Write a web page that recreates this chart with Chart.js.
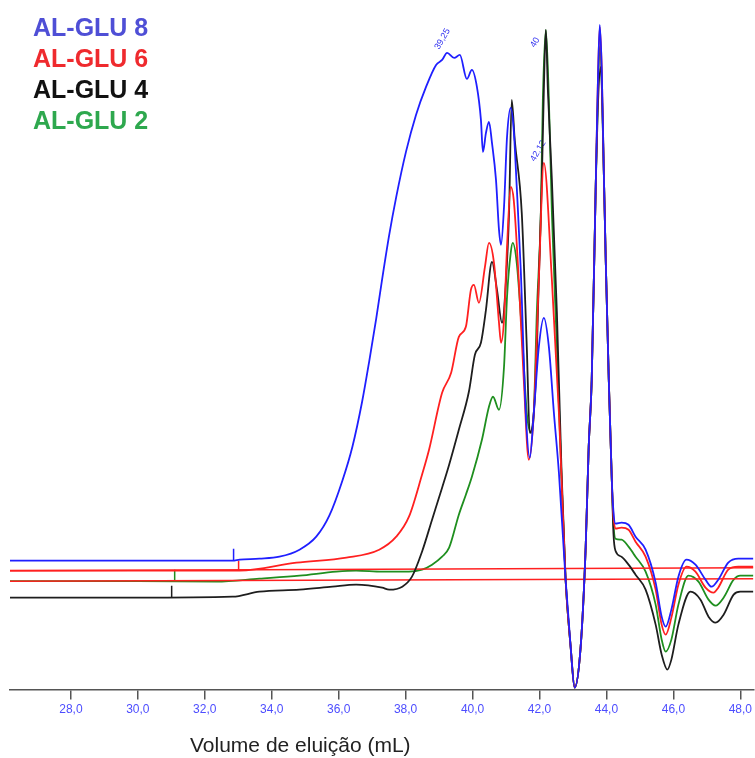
<!DOCTYPE html>
<html>
<head>
<meta charset="utf-8">
<script src="https://cdn.jsdelivr.net/npm/chart.js@4.4.0/dist/chart.umd.min.js"></script>
<style>
  html, body { margin: 0; padding: 0; background: #fff; }
  #wrap { position: relative; width: 755px; height: 758px; overflow: hidden; }
  #legend { position: absolute; left: 33px; top: 12px; font: bold 25px "Liberation Sans", Arial, sans-serif; line-height: 31px; }
  #xtitle { position: absolute; left: 190px; top: 733px; font: 21px "Liberation Sans", Arial, sans-serif; color: #222; white-space: nowrap; }
</style>
</head>
<body>
<div id="wrap">
  <canvas id="chrom"></canvas>
  <div id="legend"></div>
  <div id="xtitle">Volume de eluição (mL)</div>
</div>
<script>
// Series names and colours
const seriesNames = ['AL-GLU 8', 'AL-GLU 6', 'AL-GLU 4', 'AL-GLU 2'];
const seriesColors = ['#1f1fff', '#ff2020', '#1e1e1e', '#1f8f1f'];
const legendColors = ['#4f4fd6', '#ef2a2e', '#111111', '#2ea84e'];

// Elution volume (mL), detector signal (arbitrary units)
const glu8 = [
  [26.18, 12.9], [30.0, 12.9], [32.83, 12.9], [33.04, 13.0], [33.63, 13.1], [34.23, 13.3],
  [34.83, 14.0], [35.33, 15.3], [35.72, 17.4], [36.11, 20.9], [36.41, 24.3], [36.70, 28.8],
  [36.91, 32.8], [37.12, 37.1], [37.30, 41.1], [37.51, 45.5], [37.72, 49.3], [38.01, 53.8],
  [38.31, 57.5], [38.61, 60.3], [38.91, 62.5], [39.09, 63.0], [39.24, 63.7], [39.45, 63.2],
  [39.62, 63.5], [39.83, 61.1], [39.98, 62.0], [40.13, 60.3], [40.25, 57.0], [40.31, 53.8],
  [40.40, 55.7], [40.49, 56.8], [40.58, 54.7], [40.70, 51.0], [40.79, 46.0], [40.85, 44.5],
  [40.94, 48.3], [41.03, 55.3], [41.14, 58.2], [41.23, 56.0], [41.32, 50.3], [41.44, 42.0],
  [41.59, 27.7], [41.71, 23.2], [41.83, 27.7], [41.98, 34.3], [42.13, 37.2], [42.28, 34.3],
  [42.43, 27.7], [42.58, 21.7], [42.78, 11.0], [42.93, 4.3], [43.05, 0.2], [43.23, 4.3],
  [43.38, 14.3], [43.47, 24.3], [43.56, 31.0], [43.68, 50.4], [43.74, 60.1], [43.80, 66.5],
  [43.86, 62.0], [43.92, 52.0], [43.98, 42.8], [44.07, 31.0], [44.16, 21.0], [44.21, 17.8],
  [44.27, 16.6], [44.45, 16.7], [44.66, 16.5], [44.87, 15.3], [45.17, 14.0], [45.47, 10.7],
  [45.65, 7.3], [45.77, 6.3], [45.94, 8.0], [46.15, 11.3], [46.39, 13.0], [46.66, 12.5],
  [46.96, 11.0], [47.14, 10.3], [47.34, 11.0], [47.64, 12.7], [47.94, 13.1], [48.39, 13.1],
];
const glu6 = [
  [26.18, 11.9], [30.0, 11.9], [33.04, 11.9], [34.74, 12.7], [36.23, 13.2], [37.21, 14.0],
  [37.72, 15.3], [38.10, 17.3], [38.49, 21.5], [38.70, 24.0], [39.09, 29.7], [39.36, 31.7],
  [39.59, 35.3], [39.80, 36.3], [39.95, 40.0], [40.04, 40.5], [40.19, 38.7], [40.37, 42.3],
  [40.49, 44.7], [40.64, 42.7], [40.79, 36.7], [40.85, 34.7], [40.94, 37.0], [41.03, 44.3],
  [41.14, 50.3], [41.23, 49.0], [41.38, 41.0], [41.53, 31.0], [41.68, 23.0], [41.83, 27.7],
  [41.98, 41.0], [42.13, 52.7], [42.37, 41.0], [42.58, 27.7], [42.66, 21.0], [42.78, 11.0],
  [42.93, 4.3], [43.05, 0.2], [43.23, 4.3], [43.38, 14.3], [43.47, 24.3], [43.56, 31.0],
  [43.68, 50.4], [43.74, 60.1], [43.80, 66.3], [43.86, 62.0], [43.92, 52.0], [43.98, 42.8],
  [44.07, 31.0], [44.16, 21.0], [44.21, 17.3], [44.27, 16.1], [44.45, 16.2], [44.66, 16.0],
  [44.87, 14.8], [45.17, 13.3], [45.47, 10.0], [45.65, 6.5], [45.77, 5.5], [45.94, 7.2],
  [46.15, 10.5], [46.39, 12.3], [46.66, 11.8], [46.96, 10.2], [47.20, 9.7], [47.34, 10.2],
  [47.64, 12.0], [47.94, 12.3], [48.39, 12.3],
];
const glu4 = [
  [26.18, 9.2], [30.0, 9.2], [32.83, 9.3], [33.63, 9.8], [34.83, 10.0], [35.81, 10.3],
  [36.52, 10.5], [37.30, 10.2], [37.51, 10.0], [37.90, 10.3], [38.19, 11.3], [38.49, 13.8],
  [38.79, 17.0], [39.09, 20.2], [39.30, 22.5], [39.59, 26.0], [39.89, 29.8], [40.07, 33.5],
  [40.25, 34.7], [40.40, 38.0], [40.58, 42.8], [40.73, 40.0], [40.88, 36.7], [41.00, 41.0],
  [41.09, 47.7], [41.17, 59.0], [41.26, 55.0], [41.47, 47.7], [41.62, 34.3], [41.71, 25.7],
  [41.89, 31.0], [41.98, 41.0], [42.07, 51.0], [42.13, 60.0], [42.19, 66.0], [42.25, 60.0],
  [42.37, 51.0], [42.52, 37.7], [42.66, 21.7], [42.78, 11.0], [42.93, 4.3], [43.05, 0.2],
  [43.23, 4.3], [43.38, 14.3], [43.47, 24.3], [43.56, 31.0], [43.68, 50.4], [43.74, 58.0],
  [43.83, 62.3], [43.92, 52.0], [43.98, 42.8], [44.07, 31.0], [44.16, 21.0], [44.21, 15.6],
  [44.27, 13.9], [44.45, 13.3], [44.66, 12.5], [44.87, 11.5], [45.17, 10.0], [45.47, 6.5],
  [45.65, 3.5], [45.82, 2.0], [45.94, 3.0], [46.15, 6.5], [46.51, 9.8], [46.81, 9.0],
  [47.05, 7.3], [47.26, 6.7], [47.50, 7.5], [47.80, 9.5], [48.00, 9.8], [48.39, 9.8],
];
const glu2 = [
  [26.18, 10.85], [30.0, 10.85], [32.35, 10.8], [33.63, 11.1], [34.83, 11.4], [35.93, 11.8],
  [36.52, 11.9], [37.30, 11.8], [38.10, 11.8], [38.49, 12.0], [38.79, 12.5], [39.09, 13.3],
  [39.30, 14.2], [39.59, 17.5], [39.80, 19.5], [39.98, 21.3], [40.28, 25.0], [40.49, 28.3],
  [40.61, 29.3], [40.79, 28.0], [40.94, 32.3], [41.03, 39.3], [41.14, 43.7], [41.20, 44.7],
  [41.32, 42.7], [41.47, 36.0], [41.62, 27.7], [41.74, 25.7], [41.83, 27.7], [41.92, 37.7],
  [42.04, 47.7], [42.10, 59.0], [42.19, 66.0], [42.28, 59.0], [42.37, 47.7], [42.52, 34.3],
  [42.66, 21.0], [42.78, 11.0], [42.93, 4.3], [43.05, 0.2], [43.23, 4.3], [43.38, 14.3],
  [43.47, 24.3], [43.56, 31.0], [43.68, 50.4], [43.74, 59.0], [43.80, 64.3], [43.86, 61.0],
  [43.92, 52.0], [43.98, 42.8], [44.07, 31.0], [44.16, 21.0], [44.21, 16.6], [44.27, 15.1],
  [44.45, 15.0], [44.66, 14.3], [44.87, 13.3], [45.17, 11.8], [45.47, 8.5], [45.65, 5.0],
  [45.77, 3.8], [45.94, 5.0], [46.15, 8.5], [46.45, 11.4], [46.75, 10.8], [47.05, 9.0],
  [47.26, 8.4], [47.50, 9.2], [47.80, 11.0], [48.00, 11.4], [48.39, 11.4],
];

// Integration start markers (short vertical strokes)
const mark8 = [[32.86, 12.9], [32.86, 14.1]];
const mark6 = [[33.01, 11.9], [33.01, 12.9]];
const mark4 = [[31.01, 9.2], [31.01, 10.4]];
const mark2 = [[31.10, 10.85], [31.10, 12.0]];

// Red reference baselines
const baseUpper = [[26.18, 11.9], [48.39, 12.2]];
const baseLower = [[26.18, 10.85], [48.39, 11.1]];

// Peak annotations
const peakText = ['39,25', '42,12', '40'];
const peakX = [39.0, 41.86, 41.86];
const peakY = [64.0, 52.8, 64.2];

// Axis
const xMin = 26.18;
const xMax = 48.39;
const xTickValues = [28, 30, 32, 34, 36, 38, 40, 42, 44, 46, 48];

const legendEl = document.getElementById('legend');
seriesNames.forEach((name, i) => {
  const d = document.createElement('div');
  d.textContent = name;
  d.style.color = legendColors[i];
  legendEl.appendChild(d);
});

const peakLabels = {
  id: 'peakLabels',
  beforeDatasetsDraw(chart) {
    const { ctx, scales: { x, y } } = chart;
    ctx.save();
    ctx.fillStyle = '#3030f0';
    ctx.font = '9px "Liberation Sans", Arial, sans-serif';
    peakText.forEach((t, i) => {
      ctx.save();
      ctx.translate(x.getPixelForValue(peakX[i]), y.getPixelForValue(peakY[i]));
      ctx.rotate(-Math.PI / 3);
      ctx.fillText(t, 0, 0);
      ctx.restore();
    });
    ctx.restore();
  },
};

const curve = (data, i, order) => ({
  label: seriesNames[i],
  data,
  borderColor: seriesColors[i],
  borderWidth: 1.8,
  pointRadius: 0,
  cubicInterpolationMode: 'monotone',
  order,
});
const stroke = (data, color, order) => ({
  data,
  borderColor: color,
  borderWidth: 1.5,
  pointRadius: 0,
  tension: 0,
  order,
});

const ctx = document.getElementById('chrom');
// eslint-disable-next-line no-unused-vars
const chart = new Chart(ctx, {
  type: 'line',
  data: {
    datasets: [
      curve(glu8, 0, 0),
      curve(glu6, 1, 1),
      curve(glu4, 2, 2),
      stroke(baseUpper, seriesColors[1], 3),
      stroke(baseLower, seriesColors[1], 3),
      curve(glu2, 3, 4),
      stroke(mark8, seriesColors[0], 0),
      stroke(mark6, seriesColors[1], 1),
      stroke(mark4, seriesColors[2], 2),
      stroke(mark2, seriesColors[3], 4),
    ],
  },
  options: {
    responsive: true,
    maintainAspectRatio: false,
    animation: false,
    layout: {
      padding: { top: 0, bottom: 38, left: 10, right: 0 },
    },
    scales: {
      x: {
        type: 'linear',
        min: xMin,
        max: xMax,
        afterBuildTicks: (axis) => { axis.ticks = xTickValues.map((v) => ({ value: v })); },
        border: { display: true, color: '#555', width: 1.5 },
        grid: { drawOnChartArea: false, drawTicks: true, tickLength: 10, color: '#555', lineWidth: 1.5 },
        ticks: {
          color: '#4d4dff',
          padding: 3,
          maxRotation: 0,
          font: { family: '"Liberation Sans", Arial, sans-serif', size: 12 },
          callback: (v) => v.toFixed(1).replace('.', ','),
        },
      },
      y: {
        display: false,
        min: 0,
        max: 69,
      },
    },
    plugins: {
      legend: { display: false },
      tooltip: { enabled: false },
    },
  },
  plugins: [peakLabels],
});
</script>
</body>
</html>
